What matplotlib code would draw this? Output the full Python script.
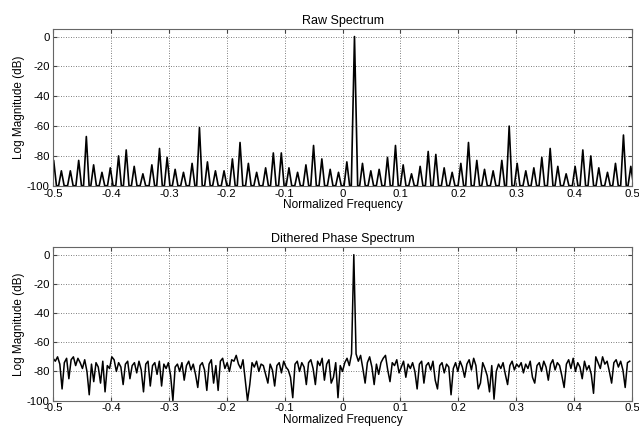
import numpy as np
import matplotlib
matplotlib.use("Agg")
import matplotlib.pyplot as plt

plt.rcParams['font.family'] = ['Liberation Sans', 'DejaVu Sans']

# ---------------- data ----------------
# Raw spectrum: spectral line positions (normalized frequency) and levels (dB)
raw_freqs = [-0.4989, -0.4856, -0.4701, -0.4557, -0.4425, -0.4299, -0.4155, -0.4011,
             -0.3868, -0.3736, -0.3598, -0.3448, -0.3293, -0.3161, -0.3029, -0.2891,
             -0.2747, -0.2598, -0.2471, -0.2333, -0.2195, -0.2046, -0.1902, -0.1770,
             -0.1626, -0.1483, -0.1328, -0.1195, -0.1057, -0.0925, -0.0776, -0.0632,
             -0.0500, -0.0357, -0.0213, -0.0069, 0.0075, 0.0207, 0.0345, 0.0489,
             0.0633, 0.0777, 0.0915, 0.1048, 0.1192, 0.1341, 0.1480, 0.1612,
             0.1756, 0.1894, 0.2044, 0.2176, 0.2320, 0.2453, 0.2602, 0.2752,
             0.2879, 0.3017, 0.3166, 0.3305, 0.3443, 0.3587, 0.3719, 0.3863,
             0.4018, 0.4151, 0.4289, 0.4427, 0.4577, 0.4715, 0.4853, 0.4980]
raw_levels = [-83, -90, -90, -83, -67, -86, -91, -88,
              -80, -76, -87, -92, -86, -75, -81, -89,
              -91, -85, -61, -84, -90, -90, -82, -71,
              -85, -91, -88, -78, -78, -88, -91, -86,
              -73, -82, -89, -91, -84, 0, -85, -90,
              -89, -81, -73, -86, -92, -87, -77, -79,
              -88, -91, -85, -71, -83, -89, -90, -83,
              -60, -85, -90, -88, -81, -75, -87, -92,
              -87, -76, -80, -88, -91, -85, -66, -87]
raw_floor = -100

# Dithered phase spectrum: 256 bins from -0.5 to 0.5 (dB)
dith_db = [
    -71, -73, -70, -75, -92, -74, -71, -85, -72, -70, -76, -71, -74, -78, -72, -80,
    -96, -75, -87, -74, -77, -88, -73, -94, -76, -78, -70, -72, -80, -74, -77, -89,
    -75, -73, -85, -76, -74, -81, -73, -79, -94, -75, -73, -90, -76, -74, -82, -73,
    -90, -75, -78, -74, -83, -100, -77, -75, -80, -74, -86, -76, -73, -79, -75, -82,
    -91, -76, -74, -79, -93, -75, -72, -88, -76, -93, -73, -71, -78, -74, -80, -72,
    -73, -69, -75, -78, -72, -86, -100, -89, -74, -77, -73, -80, -75, -76, -82, -88,
    -75, -79, -90, -76, -74, -81, -73, -77, -79, -84, -98, -75, -73, -80, -74, -77,
    -89, -74, -72, -78, -89, -73, -76, -71, -86, -75, -72, -88, -84, -74, -98, -76,
    -80, -74, -71, -76, -68, 0, -68, -73, -69, -78, -88, -74, -70, -77, -89, -75,
    -82, -74, -71, -69, -79, -87, -74, -76, -72, -81, -77, -73, -84, -75, -78, -74,
    -80, -92, -75, -73, -88, -76, -74, -79, -73, -86, -92, -76, -74, -81, -75, -77,
    -96, -78, -74, -80, -73, -77, -84, -75, -72, -79, -71, -76, -92, -88, -74, -78,
    -83, -94, -76, -99, -80, -75, -78, -74, -82, -89, -76, -73, -79, -75, -77, -74,
    -81, -75, -78, -73, -84, -88, -76, -74, -80, -73, -77, -86, -75, -72, -79, -74,
    -76, -83, -91, -75, -72, -78, -71, -80, -74, -77, -85, -73, -79, -76, -82, -95,
    -70, -74, -78, -70, -75, -73, -80, -88, -74, -72, -77, -73, -79, -91, -74, -73,
]

x_ticks = [-0.5, -0.4, -0.3, -0.2, -0.1, 0, 0.1, 0.2, 0.3, 0.4, 0.5]
x_tick_labels = ['-0.5', '-0.4', '-0.3', '-0.2', '-0.1', '0', '0.1', '0.2', '0.3', '0.4', '0.5']
y_ticks = [0, -20, -40, -60, -80, -100]
y_tick_labels = ['0', '-20', '-40', '-60', '-80', '-100']
titles = ['Raw Spectrum', 'Dithered Phase Spectrum']
x_label = 'Normalized Frequency'
y_label = 'Log Magnitude (dB)'

# ---------------- build line for raw spectrum ----------------
half_w = 0.0048
rx, ry = [], []
for f, lv in zip(raw_freqs, raw_levels):
    w = 0.0055 if lv > -20 else half_w
    rx += [f - w, f, f + w]
    ry += [raw_floor, lv, raw_floor]

dith_f = -0.5 + np.arange(len(dith_db)) / len(dith_db)

# ---------------- figure ----------------
fig = plt.figure(figsize=(6.39, 4.28), dpi=100)
ax1 = fig.add_axes([0.083, 0.566, 0.906, 0.366])
ax2 = fig.add_axes([0.083, 0.064, 0.906, 0.358])

ax1.plot(rx, ry, color='black', linewidth=1.2)
ax2.plot(dith_f, dith_db, color='black', linewidth=1.1)

for ax, t in zip([ax1, ax2], titles):
    ax.set_xlim(-0.5, 0.5)
    ax.set_ylim(-100, 5)
    ax.set_xticks(x_ticks)
    ax.set_xticklabels(x_tick_labels)
    ax.set_yticks(y_ticks)
    ax.set_yticklabels(y_tick_labels)
    ax.grid(True, linestyle=(0, (1, 2)), color='#555555', linewidth=0.6)
    ax.set_axisbelow(True)
    ax.tick_params(axis='both', direction='in', length=3, labelsize=8.2,
                   color='#444444', top=True, right=True)
    ax.tick_params(axis='x', pad=2)
    ax.tick_params(axis='y', pad=2.5)
    for s in ax.spines.values():
        s.set_color('#666666')
        s.set_linewidth(0.8)
    ax.set_title(t, fontsize=9, pad=4)
    ax.set_xlabel(x_label, fontsize=8.6, labelpad=0.5)
    ax.set_ylabel(y_label, fontsize=8.5, labelpad=1)

fig.savefig('out.png', dpi=100)
